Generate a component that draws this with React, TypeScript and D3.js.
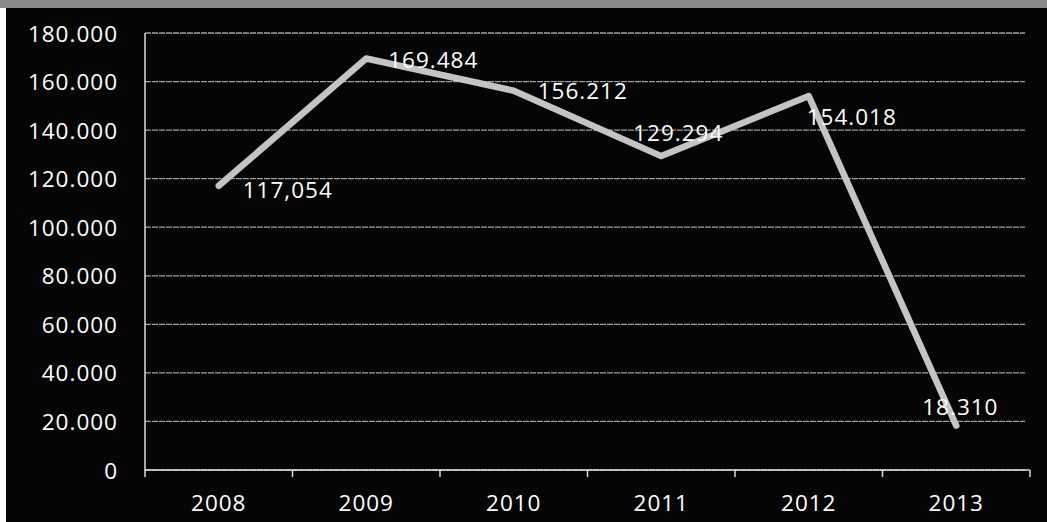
import * as d3 from "d3";

const YEARS = ["2008", "2009", "2010", "2011", "2012", "2013"];
const VALUES = [117054, 169484, 156212, 129294, 154018, 18310];
const DATA_LABELS = ["117,054", "169.484", "156.212", "129.294", "154.018", "18.310"];
const Y_TICKS = [0, 20000, 40000, 60000, 80000, 100000, 120000, 140000, 160000, 180000];

// where each data label sits relative to its point
const LABEL_OFFSETS = [
  [24, 4],
  [22, 1],
  [24, 0],
  [-28, -24],
  [-2, 20],
  [-34, -19],
];

const WIDTH = 1047;
const HEIGHT = 522;
const PLOT = { left: 145, right: 1030, top: 33, bottom: 470 };
const FONT = "'Open Sans', 'DejaVu Sans', sans-serif";
const FONT_SIZE = 22.5;

const locale = d3.formatLocale({ decimal: ",", thousands: ".", grouping: [3], currency: ["", ""] });
const fmt = locale.format(",d");

export default function App() {
  const x = d3.scaleBand<string>().domain(YEARS).range([PLOT.left, PLOT.right]).padding(0);
  const y = d3.scaleLinear().domain([0, 180000]).range([PLOT.bottom, PLOT.top]);
  const cx = (yr: string) => (x(yr) ?? 0) + x.bandwidth() / 2;

  const line = d3
    .line<number>()
    .x((_, i) => cx(YEARS[i]))
    .y((d) => y(d));

  const boundaries = [...YEARS.map((yr) => x(yr) ?? 0), PLOT.right];

  return (
    <svg
      width={WIDTH}
      height={HEIGHT}
      style={{ position: "absolute", left: 0, top: 0, display: "block" }}
      fontFamily={FONT}
    >
      <rect x={0} y={0} width={WIDTH} height={HEIGHT} fill="#fff" />
      <rect x={6} y={8} width={WIDTH - 6} height={HEIGHT - 8} fill="#050505" />
      <rect x={0} y={0} width={WIDTH} height={8} fill="#8a8a8a" />

      {/* gridlines */}
      {Y_TICKS.map((t) => (
        <line
          key={t}
          x1={PLOT.left}
          x2={PLOT.right - 5}
          y1={y(t)}
          y2={y(t)}
          stroke="#a0a0a0"
          strokeWidth={1.3}
          strokeDasharray="6 1"
        />
      ))}

      {/* y axis */}
      <line x1={PLOT.left} x2={PLOT.left} y1={PLOT.top} y2={PLOT.bottom} stroke="#ddd" strokeWidth={1.5} />
      {Y_TICKS.map((t) => (
        <text
          key={t}
          x={118}
          y={y(t)}
          textAnchor="end"
          dominantBaseline="central"
          fill="#fff"
          fontSize={FONT_SIZE}
          letterSpacing={1}
        >
          {fmt(t)}
        </text>
      ))}

      {/* x axis */}
      <line x1={PLOT.left} x2={PLOT.right} y1={PLOT.bottom} y2={PLOT.bottom} stroke="#ddd" strokeWidth={1.5} />
      {boundaries.map((b, i) => (
        <line key={i} x1={b} x2={b} y1={PLOT.bottom} y2={PLOT.bottom + 7} stroke="#ddd" strokeWidth={1.5} />
      ))}
      {YEARS.map((yr) => (
        <text
          key={yr}
          x={cx(yr)}
          y={502}
          textAnchor="middle"
          dominantBaseline="central"
          fill="#fff"
          fontSize={FONT_SIZE}
          letterSpacing={1}
        >
          {yr}
        </text>
      ))}

      {/* series */}
      <path
        d={line(VALUES) ?? ""}
        fill="none"
        stroke="#c4c4c4"
        strokeWidth={6.5}
        strokeLinejoin="round"
        strokeLinecap="round"
      />

      {VALUES.map((v, i) => (
        <text
          key={i}
          x={cx(YEARS[i]) + LABEL_OFFSETS[i][0]}
          y={y(v) + LABEL_OFFSETS[i][1]}
          dominantBaseline="central"
          fill="#fff"
          fontSize={FONT_SIZE}
          letterSpacing={1}
        >
          {DATA_LABELS[i]}
        </text>
      ))}
    </svg>
  );
}
